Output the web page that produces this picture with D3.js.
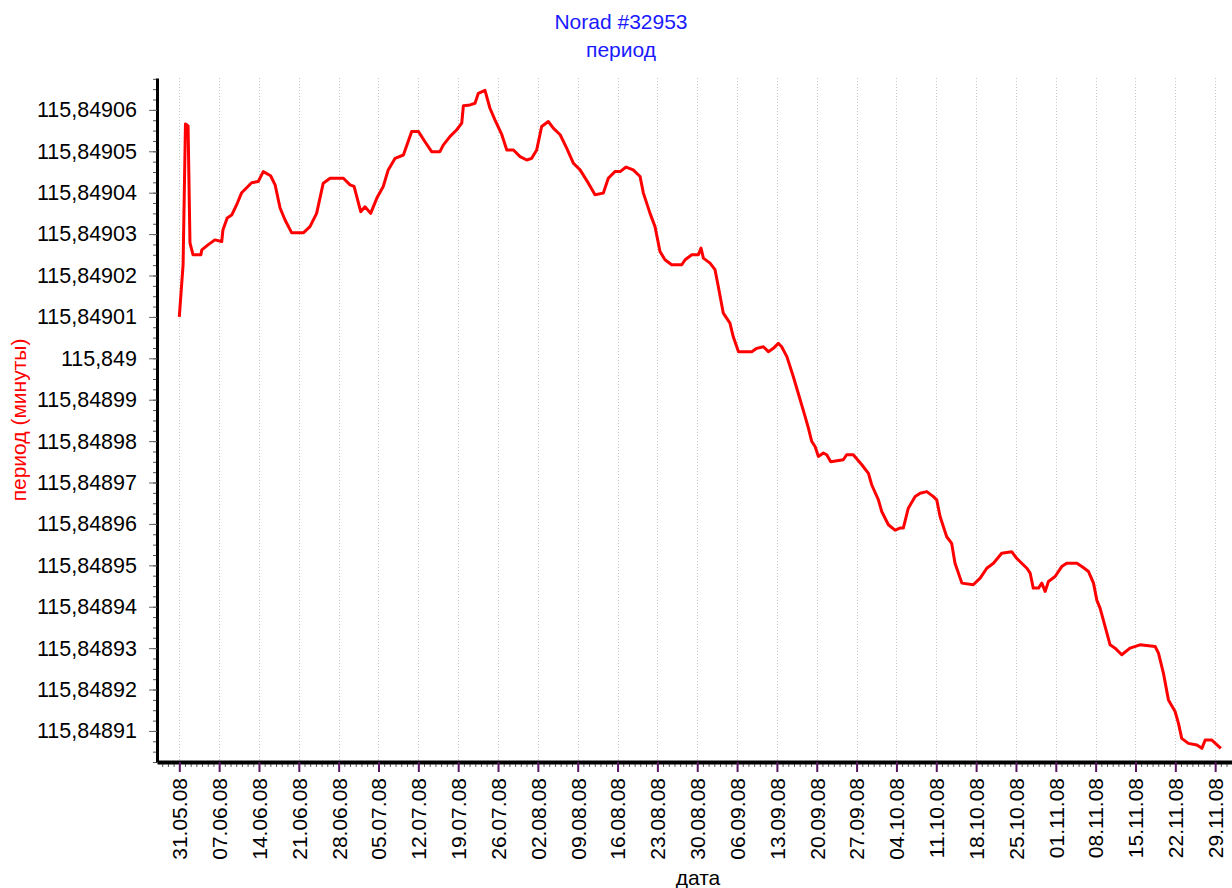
<!DOCTYPE html>
<html>
<head>
<meta charset="utf-8">
<title>Norad #32953 - период</title>
<script src="https://cdn.jsdelivr.net/npm/d3@7"></script>
<style>
  body { margin: 0; background: white; }
  svg { display: block; font-family: "Liberation Sans", Arial, sans-serif; }
</style>
</head>
<body>
<svg id="chart" width="1232" height="888"></svg>
<script>
// values: date "dd.mm.yy HH" and period in minutes
var dates = [
  "31.05.08 00","31.05.08 16","01.06.08 02","01.06.08 13","01.06.08 21","02.06.08 10","03.06.08 19","03.06.08 23",
  "05.06.08 01","06.06.08 06","07.06.08 11","07.06.08 16","08.06.08 10","09.06.08 05","10.06.08 05","10.06.08 23",
  "11.06.08 20","12.06.08 17","13.06.08 21","14.06.08 18","16.06.08 01","16.06.08 20","17.06.08 17","18.06.08 14",
  "19.06.08 18","21.06.08 19","22.06.08 23","24.06.08 03","25.06.08 07","26.06.08 12","28.06.08 20","30.06.08 00",
  "30.06.08 17","01.07.08 21","02.07.08 15","03.07.08 15","04.07.08 17","05.07.08 20","06.07.08 17","07.07.08 22",
  "09.07.08 09","10.07.08 20","12.07.08 00","13.07.08 04","14.07.08 08","15.07.08 19","16.07.08 09","17.07.08 14",
  "18.07.08 18","19.07.08 15","19.07.08 22","21.07.08 02","21.07.08 23","22.07.08 13","23.07.08 17","24.07.08 14",
  "25.07.08 11","26.07.08 16","27.07.08 13","28.07.08 17","29.07.08 21","31.07.08 01","31.07.08 22","01.08.08 19",
  "02.08.08 16","03.08.08 20","04.08.08 17","05.08.08 22","07.08.08 02","08.08.08 06","09.08.08 10","10.08.08 21",
  "12.08.08 01","13.08.08 12","14.08.08 09","15.08.08 13","16.08.08 11","17.08.08 12","18.08.08 18","19.08.08 23",
  "20.08.08 13","21.08.08 17","22.08.08 14","23.08.08 11","24.08.08 08","25.08.08 12","27.08.08 07","27.08.08 21",
  "29.08.08 01","30.08.08 05","30.08.08 16","31.08.08 02","01.09.08 06","02.09.08 03","02.09.08 17","03.09.08 14",
  "04.09.08 18","05.09.08 08","06.09.08 06","08.09.08 14","09.09.08 11","10.09.08 15","11.09.08 12","12.09.08 09",
  "13.09.08 06","13.09.08 20","14.09.08 18","15.09.08 21","17.09.08 02","17.09.08 23","18.09.08 13","19.09.08 03",
  "19.09.08 17","20.09.08 07","21.09.08 04","21.09.08 18","22.09.08 11","24.09.08 16","25.09.08 06","26.09.08 10",
  "27.09.08 22","29.09.08 02","29.09.08 16","30.09.08 20","01.10.08 10","02.10.08 14","03.10.08 18","04.10.08 15",
  "05.10.08 05","06.10.08 02","07.10.08 07","08.10.08 04","09.10.08 08","10.10.08 12","11.10.08 02","11.10.08 16",
  "12.10.08 20","13.10.08 17","14.10.08 07","15.10.08 12","17.10.08 12","18.10.08 17","19.10.08 21","21.10.08 01",
  "22.10.08 12","24.10.08 06","25.10.08 03","26.10.08 22","27.10.08 12","28.10.08 01","28.10.08 23","29.10.08 13",
  "30.10.08 03","30.10.08 17","31.10.08 21","02.11.08 01","02.11.08 22","04.11.08 17","05.11.08 14","06.11.08 18",
  "07.11.08 15","08.11.08 05","08.11.08 19","09.11.08 16","10.11.08 13","11.11.08 10","12.11.08 14","14.11.08 01",
  "15.11.08 19","18.11.08 11","19.11.08 01","19.11.08 22","20.11.08 19","21.11.08 23","22.11.08 13","23.11.08 03",
  "24.11.08 07","25.11.08 19","26.11.08 16","27.11.08 06","28.11.08 10","30.11.08 00"
];

var periods = [
  115.84901,115.8490226,115.8490566,115.8490561,115.8490279,115.849025,115.849025,115.8490262,
  115.8490274,115.8490286,115.8490282,115.849031,115.8490339,115.8490346,115.8490375,115.84904,
  115.8490412,115.8490424,115.8490427,115.8490451,115.8490441,115.8490419,115.8490363,115.8490334,
  115.8490303,115.8490303,115.8490318,115.849035,115.8490423,115.8490435,115.8490435,115.8490419,
  115.8490415,115.8490354,115.8490366,115.849035,115.8490387,115.8490415,115.8490455,115.8490483,
  115.8490491,115.8490548,115.8490548,115.8490523,115.8490499,115.8490499,115.8490515,115.8490536,
  115.8490552,115.8490568,115.849061,115.8490612,115.8490616,115.849064,115.8490647,115.8490604,
  115.8490576,115.849054,115.8490503,115.8490503,115.8490487,115.8490479,115.8490483,115.8490503,
  115.849056,115.8490572,115.8490556,115.849054,115.8490507,115.8490471,115.8490455,115.8490423,
  115.8490395,115.8490399,115.8490435,115.8490451,115.8490451,115.8490462,115.8490455,115.8490439,
  115.8490399,115.849035,115.8490318,115.8490258,115.8490238,115.8490226,115.8490226,115.8490238,
  115.849025,115.849025,115.8490266,115.8490242,115.849023,115.8490214,115.8490173,115.8490109,
  115.8490085,115.8490052,115.8490016,115.8490016,115.8490024,115.8490028,115.8490016,115.8490024,
  115.8490036,115.8490028,115.8490004,115.8489956,115.84899,115.8489859,115.8489831,115.8489799,
  115.8489787,115.8489763,115.8489771,115.8489767,115.848975,115.8489755,115.8489767,115.8489767,
  115.8489743,115.8489722,115.8489694,115.8489658,115.848963,115.8489598,115.8489585,115.848959,
  115.848959,115.8489638,115.8489666,115.8489674,115.8489678,115.8489666,115.8489658,115.8489618,
  115.8489569,115.8489553,115.8489505,115.8489457,115.8489453,115.8489469,115.8489493,115.8489505,
  115.8489529,115.8489533,115.8489517,115.8489493,115.8489481,115.8489445,115.8489445,115.8489457,
  115.8489437,115.8489461,115.8489473,115.8489497,115.8489505,115.8489505,115.8489497,115.8489485,
  115.8489457,115.8489416,115.8489396,115.8489352,115.8489308,115.84893,115.8489284,115.84893,
  115.8489308,115.8489304,115.8489288,115.8489239,115.8489175,115.8489147,115.8489119,115.8489082,
  115.848907,115.8489066,115.8489058,115.8489078,115.8489078,115.8489058
];

// tick labels
var xTickLabels = ["31.05.08","07.06.08","14.06.08","21.06.08","28.06.08","05.07.08","12.07.08","19.07.08",
  "26.07.08","02.08.08","09.08.08","16.08.08","23.08.08","30.08.08","06.09.08","13.09.08","20.09.08",
  "27.09.08","04.10.08","11.10.08","18.10.08","25.10.08","01.11.08","08.11.08","15.11.08","22.11.08","29.11.08"];
var yTicks = [115.84891,115.84892,115.84893,115.84894,115.84895,115.84896,115.84897,115.84898,
  115.84899,115.849,115.84901,115.84902,115.84903,115.84904,115.84905,115.84906];

var titleText = "Norad #32953";
var subtitleText = "период";
var yLabelText = "период (минуты)";
var xLabelText = "дата";

var svg = d3.select("#chart");
var parsePoint = d3.timeParse("%d.%m.%y %H");
var parseDay = d3.timeParse("%d.%m.%y");
var fmtDay = d3.timeFormat("%d.%m.%y");

// plot box (note: "top" is taken by window.top, so prefixed names)
var plotLeft = 157, plotRight = 1232, plotTop = 78, plotBottom = 762;

// the axis starts a few days before the first point and runs past the right edge
var x = d3.scaleTime()
    .domain([new Date(2008, 4, 27, 2), new Date(2008, 11, 1, 23)])
    .range([plotLeft, plotRight]);
var y = d3.scaleLinear()
    .domain([115.8489025, 115.8490677])
    .range([plotBottom, plotTop]);

var points = dates.map(function(d, i) {
    return {date: parsePoint(d), value: periods[i]};
});
var majorDates = xTickLabels.map(function(s) { return parseDay(s); });

// dotted vertical grid at each labelled date
svg.append("g").selectAll("line")
    .data(majorDates)
    .enter().append("line")
    .attr("x1", function(d) { return Math.round(x(d)) + 0.5; })
    .attr("x2", function(d) { return Math.round(x(d)) + 0.5; })
    .attr("y1", plotTop)
    .attr("y2", plotBottom - 2)
    .attr("stroke", "#c4c4c4")
    .attr("stroke-width", 1)
    .attr("stroke-dasharray", "1,2");

// minor ticks (days on x, quarter steps on y)
var minorX = d3.timeDay.range(x.domain()[0], x.domain()[1]);
svg.append("g")
    .attr("transform", "translate(0," + plotBottom + ")")
    .call(d3.axisBottom(x).tickValues(minorX).tickSize(5).tickSizeOuter(0).tickFormat(""))
    .call(function(g) {
        g.select(".domain").remove();
        g.selectAll(".tick line").attr("stroke", "#555");
    });

var minorY = [];
for (var i = 0; i < yTicks.length; i++) {
    for (var k = -3; k <= 3; k++) {
        var v = yTicks[i] + k * 0.0000025;
        if (v > y.domain()[0] && v < y.domain()[1] && minorY.indexOf(v.toFixed(8)) < 0) minorY.push(v.toFixed(8));
    }
}
svg.append("g")
    .attr("transform", "translate(" + plotLeft + ",0)")
    .call(d3.axisLeft(y).tickValues(minorY.map(Number)).tickSize(4).tickSizeOuter(0).tickFormat(""))
    .call(function(g) {
        g.select(".domain").remove();
        g.selectAll(".tick line").attr("stroke", "#555");
    });

// major y axis
var commaFmt = function(d) { return d3.format(".5~f")(d).replace(".", ","); };
svg.append("g")
    .attr("transform", "translate(" + plotLeft + ",0)")
    .call(d3.axisLeft(y).tickValues(yTicks).tickSize(8).tickPadding(12).tickSizeOuter(0).tickFormat(commaFmt))
    .call(function(g) {
        g.select(".domain").attr("stroke", "#000").attr("stroke-width", 3);
        g.selectAll(".tick line").attr("stroke", "#666");
        g.selectAll(".tick text").attr("fill", "#000").style("font-size", "21.5px");
    });

// major x axis with vertical date labels
svg.append("g")
    .attr("transform", "translate(0," + plotBottom + ")")
    .call(d3.axisBottom(x).tickValues(majorDates).tickSize(10).tickSizeOuter(0).tickFormat(fmtDay))
    .call(function(g) {
        g.select(".domain").attr("stroke", "#000").attr("stroke-width", 4);
        g.selectAll(".tick line").attr("stroke", "#5a1560").attr("stroke-width", 2);
        g.selectAll(".tick text")
            .attr("fill", "#000")
            .style("font-size", "21px")
            .attr("transform", "rotate(-90)")
            .attr("text-anchor", "end")
            .attr("x", -16)
            .attr("y", 0)
            .attr("dy", "0.35em");
    });

// the period line
var line = d3.line()
    .x(function(d) { return x(d.date); })
    .y(function(d) { return y(d.value); });

svg.append("path")
    .datum(points)
    .attr("d", line)
    .attr("fill", "none")
    .attr("stroke", "#ff0000")
    .attr("stroke-width", 3)
    .attr("stroke-linejoin", "round");

// titles
svg.append("text")
    .attr("x", 621).attr("y", 29)
    .attr("text-anchor", "middle")
    .attr("fill", "#1a1aff")
    .style("font-size", "21px")
    .text(titleText);
svg.append("text")
    .attr("x", 621).attr("y", 57)
    .attr("text-anchor", "middle")
    .attr("fill", "#1a1aff")
    .style("font-size", "21px")
    .text(subtitleText);

svg.append("text")
    .attr("transform", "translate(26,420) rotate(-90)")
    .attr("text-anchor", "middle")
    .attr("fill", "#ff0000")
    .style("font-size", "21px")
    .text(yLabelText);

svg.append("text")
    .attr("x", 698).attr("y", 885)
    .attr("text-anchor", "middle")
    .attr("fill", "#000")
    .style("font-size", "21px")
    .text(xLabelText);
</script>
</body>
</html>
